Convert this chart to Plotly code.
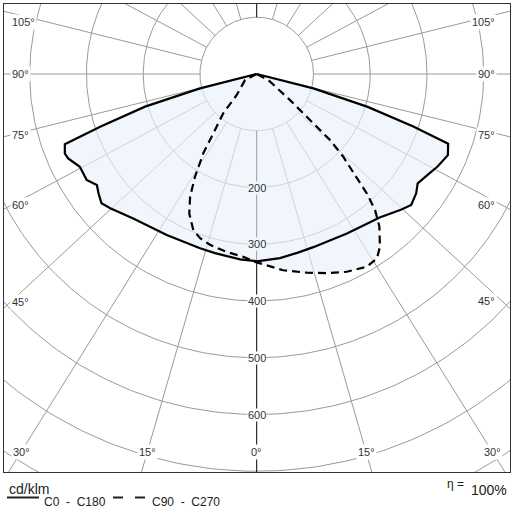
import numpy as np
import plotly.graph_objects as go

# luminous intensity in cd/klm; angle measured from nadir, negative = left half
c0_angle = [-90, -75.8, -73.7, -71.4, -69.9, -67.5, -65.9, -62.3, -58.1, -55.2, -53.0,
            -50.2, -47.5, -40.5, -29.2, -18.0, -13.1, -5.1, 0, 7.2, 13.0, 18.1, 29.5,
            40.6, 46.7, 49.7, 53.2, 55.8, 60.1, 62.9, 67.0, 70.0, 71.5, 73.5, 75.8, 90]
c0_value = [0, 103, 205, 291, 360, 366, 364, 352, 353, 343, 349,
            356, 350, 335, 325, 323, 324, 328, 330, 327, 323, 321, 323,
            333, 349, 357, 351, 343, 351, 358, 366, 359, 291, 204, 103, 0]

c90_angle = [-90, -62.9, -43.6, -40.4, -36.2, -34.0, -31.0, -28.5, -25.8, -22.1, -19.0,
             -15.3, -9.6, -4.2, -0.5, 4.9, 7.7, 9.6, 14.1, 19.4, 24.5, 29.7, 33.1,
             35.5, 38.8, 41.0, 42.7, 44.2, 46.3, 48.0, 48.9, 50.3, 52.0, 62.6, 90]
c90_value = [0, 23, 51, 91, 129, 168, 211, 246, 273, 297, 306,
             312, 318, 323, 331, 341, 349, 352, 361, 372, 383, 391, 388,
             374, 345, 318, 286, 248, 211, 174, 132, 99, 74, 23, 0]

circle_values = [100, 200, 300, 400, 500, 600, 700, 800]
ray_angles = list(range(0, 360, 15))
value_labels = [200, 300, 400, 500, 600]
side_label_angles = [45, 60, 75, 90, 105]
bottom_label_angles = [-30, -15, 0, 15, 30]

# page geometry (pixels)
W, H = 512, 512
CX, CY = 256.7, 74.0          # pole
PX = 0.5675                    # pixels per cd/klm
FRAME = dict(l=4, r=510, t=4, b=472)
RAY_SKEW = 1.08                # the angle rays of the original are slightly spread sideways

GRID = '#9a9a9a'
FILL = 'rgba(232,241,250,0.65)'
FILL_SEEN = '#f0f6fc'
FONT = 'Liberation Sans'


def to_xy(angles, values):
    a = np.radians(np.asarray(angles, dtype=float))
    v = np.asarray(values, dtype=float)
    return list(v * np.sin(a)), list(-v * np.cos(a))


def ray_dir(angle):
    a = np.radians(angle)
    d = np.array([RAY_SKEW * np.sin(a), -np.cos(a)])
    return d / np.hypot(*d)


fig = go.Figure()

# circles
cx, cy = [], []
t = np.linspace(0, 2 * np.pi, 361)
for r in circle_values:
    cx += list(r * np.cos(t)) + [None]
    cy += list(r * np.sin(t)) + [None]
fig.add_trace(go.Scatter(x=cx, y=cy, mode='lines', line=dict(color=GRID, width=1),
                         hoverinfo='skip', showlegend=False))

# angle rays, starting at the innermost circle
rx, ry, ax_x, ax_y = [], [], [], []
for a in ray_angles:
    d = ray_dir(a)
    p0, p1 = d * circle_values[0], d * 1500
    if a % 180 == 0:
        ax_x += [p0[0], p1[0], None]
        ax_y += [p0[1], p1[1], None]
    else:
        rx += [p0[0], p1[0], None]
        ry += [p0[1], p1[1], None]
fig.add_trace(go.Scatter(x=rx, y=ry, mode='lines', line=dict(color=GRID, width=1),
                         hoverinfo='skip', showlegend=False))
fig.add_trace(go.Scatter(x=ax_x, y=ax_y, mode='lines', line=dict(color='black', width=1),
                         hoverinfo='skip', showlegend=False))

# shaded area (both curves in one path so the overlap is shaded once)
x0, y0 = to_xy(c0_angle, c0_value)
x90, y90 = to_xy(c90_angle, c90_value)
fig.add_trace(go.Scatter(x=x0 + [None] + x90, y=y0 + [None] + y90, mode='lines',
                         fill='toself', fillcolor=FILL, line=dict(width=0),
                         hoverinfo='skip', showlegend=False))

fig.add_trace(go.Scatter(x=x0, y=y0, mode='lines', name='C0 - C180',
                         line=dict(color='black', width=2.2), showlegend=False))
fig.add_trace(go.Scatter(x=x90, y=y90, mode='lines', name='C90 - C270',
                         line=dict(color='black', width=2.2, dash='8px,5px'), showlegend=False))

# labels
ann = []
label_font = dict(family=FONT, size=11, color='#333333')
c0_nadir = np.interp(0, c0_angle, c0_value)
for v in value_labels:
    ann.append(dict(x=0, y=-v, text=str(v), showarrow=False, font=label_font,
                    bgcolor=FILL_SEEN if v < c0_nadir else 'white', borderpad=0))

# side labels sit where each ray runs out at the frame, kept clear of the top edge
for a in side_label_angles:
    for side in (-1, 1):
        d = ray_dir(side * a)
        edge = 11 if side < 0 else 502
        yd = (edge - CX) / PX / d[0] * d[1]
        yd = min(yd, (CY - FRAME['t'] - 18) / PX)
        px = 10 if side < 0 else 497
        ann.append(dict(x=(px - CX) / PX, y=yd, text=f'{a}°', showarrow=False,
                        xanchor='left' if side < 0 else 'right', font=label_font,
                        bgcolor='white', borderpad=1))

ybottom = -(452 - CY) / PX
for a in bottom_label_angles:
    d = ray_dir(a)
    xd = ybottom / d[1] * d[0]
    ann.append(dict(x=xd, y=ybottom, text=f'{abs(a)}°', showarrow=False, font=label_font,
                    bgcolor='white', borderpad=1))


def px2paper(px, py):
    return ((px - FRAME['l']) / (FRAME['r'] - FRAME['l']),
            (FRAME['b'] - py) / (FRAME['b'] - FRAME['t']))


def paper_text(px, py, text, size, anchor='left'):
    x, y = px2paper(px, py)
    return dict(x=x, y=y, xref='paper', yref='paper', text=text, showarrow=False,
                xanchor=anchor, yanchor='middle', font=dict(family=FONT, size=size, color='#222'))


ann += [
    paper_text(7, 489, 'cd/klm', 14),
    paper_text(42, 502, 'C0  -  C180', 12),
    paper_text(150, 502, 'C90  -  C270', 12),
    paper_text(466, 484, 'η =', 12, 'right'),
    paper_text(469, 490, '100%', 14),
]

shapes = []
for (a, b), dash in [((7, 39), 'solid'), ((113, 145), '10px,12px')]:
    (xa, ya), (xb, _) = px2paper(a, 497.5), px2paper(b, 497.5)
    shapes.append(dict(type='line', xref='paper', yref='paper', x0=xa, x1=xb, y0=ya, y1=ya,
                       line=dict(color='#222', width=2, dash=dash)))

fig.update_layout(
    width=W, height=H, autosize=False,
    margin=dict(l=FRAME['l'], r=W - FRAME['r'], t=FRAME['t'], b=H - FRAME['b'], pad=0),
    paper_bgcolor='white', plot_bgcolor='white',
    annotations=ann, shapes=shapes,
    xaxis=dict(range=[(FRAME['l'] - CX) / PX, (FRAME['r'] - CX) / PX], showgrid=False,
               zeroline=False, showticklabels=False, ticks='', showline=True, mirror=True,
               linecolor='#333', linewidth=1, fixedrange=True),
    yaxis=dict(range=[-(FRAME['b'] - CY) / PX, (CY - FRAME['t']) / PX], showgrid=False,
               zeroline=False, showticklabels=False, ticks='', showline=True, mirror=True,
               linecolor='#333', linewidth=1, fixedrange=True),
)

# the page body has a default 8px margin; drop it so the figure sits at the window corner
fig.write_html('out.html', config=dict(displayModeBar=False),
               post_script="document.body.style.margin='0';")
